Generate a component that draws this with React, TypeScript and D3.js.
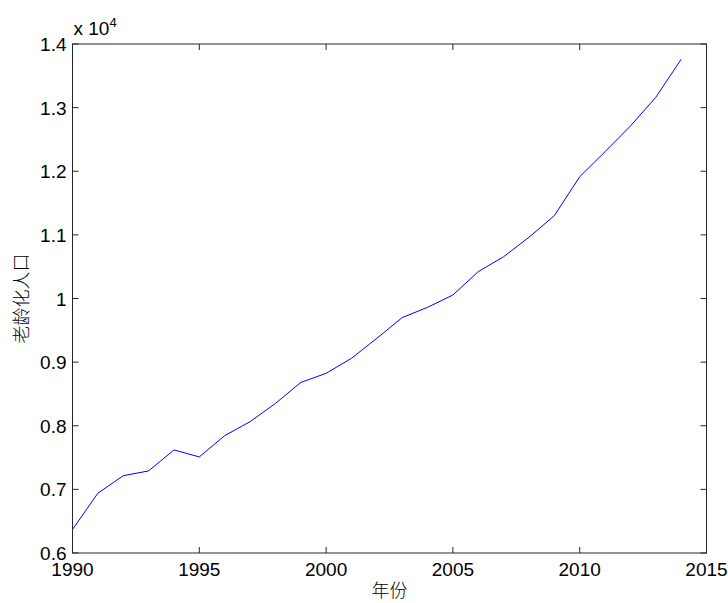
import React from "react";
import * as d3 from "d3";

const years = [1990,1991,1992,1993,1994,1995,1996,1997,1998,1999,2000,2001,2002,2003,2004,2005,2006,2007,2008,2009,2010,2011,2012,2013,2014];
const values = [0.637,0.694,0.7215,0.729,0.762,0.751,0.7844,0.8064,0.835,0.868,0.8824,0.906,0.9374,0.970,0.9861,1.0055,1.0422,1.0657,1.0962,1.1302,1.1914,1.2307,1.2711,1.3162,1.3759];
const xTicks = [1990,1995,2000,2005,2010,2015];
const yTicks = [0.6,0.7,0.8,0.9,1,1.1,1.2,1.3,1.4];
const xLabel = "年份";
const yLabel = "老龄化人口";

export default function App() {
  const W = 728, H = 603;
  const L = 72.5, R = 706.5, T = 44, B = 553;
  const x = d3.scaleLinear().domain([1990, 2015]).range([L, R]);
  const y = d3.scaleLinear().domain([0.6, 1.4]).range([B, T]);
  const line = d3.line<number>().x((_, i) => x(years[i])).y(d => y(d));
  const axisColor = "#262626";
  const font = "'Liberation Sans', Arial, sans-serif";
  const cjk = "'Noto Sans CJK SC', sans-serif";
  const tl = 6;
  return (
    <svg width={W} height={H} style={{ position: "absolute", left: 0, top: 0, background: "#fff" }}>
      <rect x={0} y={0} width={W} height={H} fill="#fff" />
      <path d={line(values) || ""} fill="none" stroke="#0000ff" strokeWidth={1} />
      <rect x={L} y={T} width={R - L} height={B - T} fill="none" stroke={axisColor} strokeWidth={1} />
      {xTicks.map(t => (
        <g key={"x" + t}>
          <line x1={x(t)} x2={x(t)} y1={B} y2={B - tl} stroke={axisColor} />
          <line x1={x(t)} x2={x(t)} y1={T} y2={T + tl} stroke={axisColor} />
          <text x={x(t)} y={B + 23} textAnchor="middle" fontFamily={font} fontSize={19} fill="#000">{t}</text>
        </g>
      ))}
      {yTicks.map(t => (
        <g key={"y" + t}>
          <line x1={L} x2={L + tl} y1={y(t)} y2={y(t)} stroke={axisColor} />
          <line x1={R} x2={R - tl} y1={y(t)} y2={y(t)} stroke={axisColor} />
          <text x={L - 6} y={y(t) + 7} textAnchor="end" fontFamily={font} fontSize={19} fill="#000">{String(t)}</text>
        </g>
      ))}
      <text x={L + 1} y={T - 9} fontFamily={font} fontSize={19} fill="#000">
        x 10<tspan dy={-8} fontSize={13}>4</tspan>
      </text>
      <text x={(L + R) / 2} y={H - 6} textAnchor="middle" fontFamily={cjk} fontWeight={300} fontSize={18} fill="#000">{xLabel}</text>
      <text transform={`translate(28, ${(T + B) / 2}) rotate(-90)`} textAnchor="middle" fontFamily={cjk} fontWeight={300} fontSize={18} fill="#000">{yLabel}</text>
    </svg>
  );
}
